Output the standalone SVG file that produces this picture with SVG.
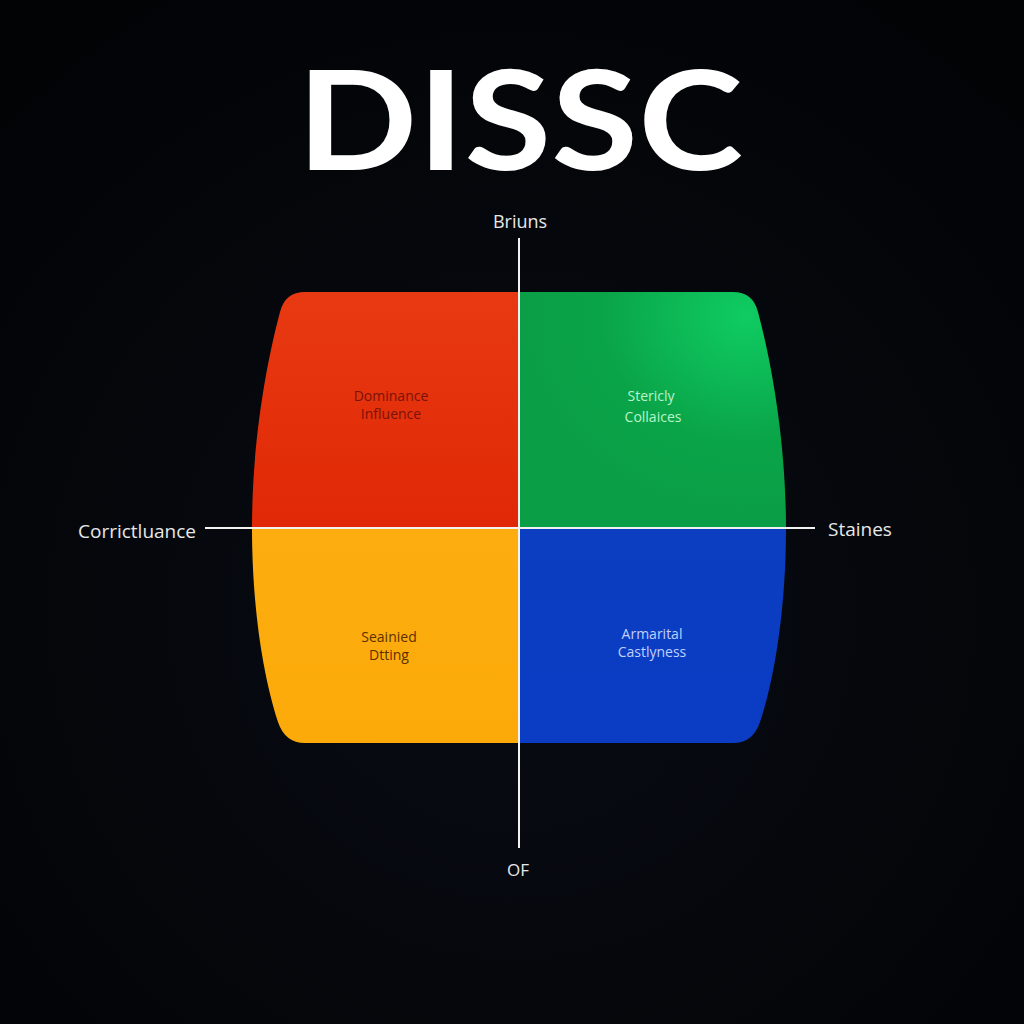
<svg xmlns="http://www.w3.org/2000/svg" width="1024" height="1024" viewBox="0 0 1024 1024">
<style>
.title{font-family:Lato,"Open Sans",sans-serif;font-weight:700;fill:#ffffff}
.axis{font-family:"Open Sans","Noto Sans",sans-serif;fill:#e8e8e8}
.q{font-family:"Open Sans","Noto Sans",sans-serif;font-size:14px;text-anchor:middle}
.line{stroke:#f2f2f2;stroke-width:2}
</style>
<defs>
<radialGradient id="bg" cx="0.5" cy="0.6" r="0.7">
<stop offset="0" stop-color="#080c14"/>
<stop offset="1" stop-color="#020305"/>
</radialGradient>
<linearGradient id="gr" x1="0" y1="0" x2="0" y2="1">
<stop offset="0" stop-color="#e83a12"/>
<stop offset="1" stop-color="#e02806"/>
</linearGradient>
<radialGradient id="gg" cx="0.85" cy="0.1" r="0.9">
<stop offset="0" stop-color="#0fcc62"/>
<stop offset="0.6" stop-color="#0aa448"/>
<stop offset="1" stop-color="#0a9e46"/>
</radialGradient>
<linearGradient id="gy" x1="0" y1="0" x2="0" y2="1">
<stop offset="0" stop-color="#fdad0f"/>
<stop offset="1" stop-color="#fcaa0a"/>
</linearGradient>
<linearGradient id="gb" x1="0" y1="0" x2="0" y2="1">
<stop offset="0" stop-color="#0b3ec0"/>
<stop offset="1" stop-color="#0a3cc4"/>
</linearGradient>
</defs>
<rect width="1024" height="1024" fill="url(#bg)"/>
<text class="title" x="520" y="170" font-size="138" text-anchor="middle" textLength="446" lengthAdjust="spacingAndGlyphs">DISSC</text>

<g id="dominance">
<path d="M519 292 L305 292 Q285 292 280 312 C264 372 252 450 252 528 L519 528 Z" fill="url(#gr)"/>
<text class="q" x="391" y="401" fill="#7a1208">Dominance</text>
<text class="q" x="391" y="419" fill="#7a1208">Influence</text>
</g>
<g id="stericly">
<path d="M519 292 L733 292 Q753 292 758 312 C774 372 786 450 786 528 L519 528 Z" fill="url(#gg)"/>
<text class="q" x="651" y="401" fill="#b8f5cc">Stericly</text>
<text class="q" x="653" y="422" fill="#b8f5cc">Collaices</text>
</g>
<g id="seainied">
<path d="M519 528 L252 528 C252 610 264 680 278 722 Q285 743 305 743 L519 743 Z" fill="url(#gy)"/>
<text class="q" x="389" y="642" fill="#5a3000">Seainied</text>
<text class="q" x="389" y="660" fill="#5a3000">Dtting</text>
</g>
<g id="armarital">
<path d="M519 528 L786 528 C786 610 774 680 760 722 Q753 743 733 743 L519 743 Z" fill="url(#gb)"/>
<text class="q" x="652" y="639" fill="#c0d0ff">Armarital</text>
<text class="q" x="652" y="657" fill="#c0d0ff">Castlyness</text>
</g>

<g id="connectors">
<line class="line" x1="519" y1="238" x2="519" y2="848"/>
<line class="line" x1="205" y1="528" x2="815" y2="528"/>
</g>

<g id="labels">
<text class="axis" x="520" y="228" font-size="18" text-anchor="middle">Briuns</text>
<text class="axis" x="518" y="876" font-size="17" text-anchor="middle">OF</text>
<text class="axis" x="78" y="538" font-size="19">Corrictluance</text>
<text class="axis" x="828" y="536" font-size="19">Staines</text>
</g>
</svg>
